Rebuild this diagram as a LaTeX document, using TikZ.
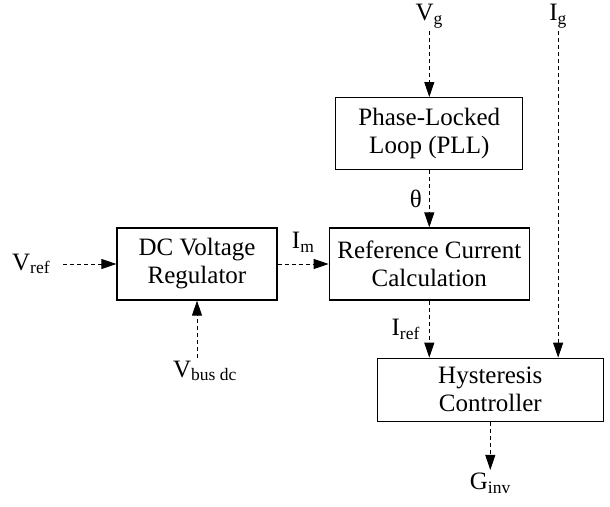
\documentclass[tikz,border=0pt]{standalone}
\usepackage{fontspec}
\setmainfont{Liberation Serif}
\usetikzlibrary{arrows.meta,positioning}
\tikzset{
  block/.style={draw,line width=1.3pt,align=center,minimum height=72pt,
    font=\fontsize{25}{28}\selectfont,inner sep=2pt},
  sig/.style={-{Triangle[length=15pt,width=10pt]},line width=0.9pt,
    dash pattern=on 4pt off 3pt},
  lbl/.style={font=\fontsize{25}{28}\selectfont,inner sep=3pt}
}

\begin{document}
\begin{tikzpicture}[x=1pt,y=1pt]
  \useasboundingbox (0,0) rectangle (610,506);

  \node[block,minimum width=160pt] (dcreg) at (197,242) {DC Voltage\\Regulator};
  \node[block,minimum width=200pt,right=51pt of dcreg] (refcalc) {Reference Current\\Calculation};
  \node[block,minimum width=187pt,above=57pt of refcalc] (pll) {Phase-Locked\\Loop (PLL)};
  \node[block,minimum width=226pt,minimum height=63pt,below=57pt of refcalc,xshift=61pt] (hyst) {Hysteresis\\Controller};

  \node[lbl,left=63pt of dcreg] (vref) {V\textsubscript{ref}};
  \node[lbl,above=66pt of pll] (vg) {V\textsubscript{g}};
  \node[lbl,right=100pt of vg] (ig) {I\textsubscript{g}};
  \node[lbl,below=57pt of dcreg,xshift=8pt] (vbus) {V\textsubscript{bus dc}};
  \node[lbl,below=48pt of hyst] (ginv) {G\textsubscript{inv}};

  \draw[sig,shorten <=10pt] (vref) -- (dcreg);
  \draw[sig] (dcreg) -- node[lbl,above=8pt]{I\textsubscript{m}} (refcalc);
  \draw[sig] (vbus.north -| dcreg.south) -- (dcreg.south);
  \draw[sig] (vg) -- (pll);
  \draw[sig] (pll) -- node[lbl,left=4pt]{θ} (refcalc);
  \draw[sig] (refcalc) -- node[lbl,left=6pt]{I\textsubscript{ref}} (refcalc |- hyst.north);
  \draw[sig] (ig) -- (ig |- hyst.north);
  \draw[sig] (hyst) -- (ginv);
\end{tikzpicture}
\end{document}
